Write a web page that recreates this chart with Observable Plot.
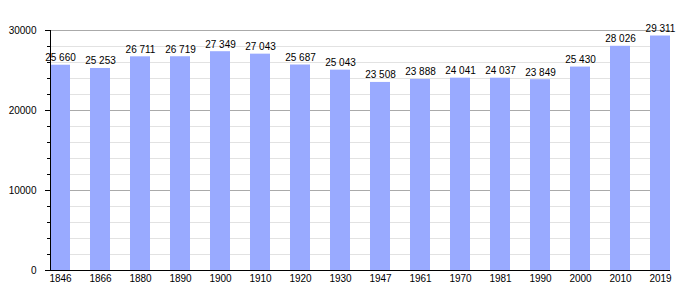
<!DOCTYPE html>
<html>
<head>
<meta charset="utf-8">
<script src="https://cdn.jsdelivr.net/npm/d3@7"></script>
<script src="https://cdn.jsdelivr.net/npm/@observablehq/plot@0.6"></script>
<style>
  html, body { margin: 0; padding: 0; background: #fff; }
</style>
</head>
<body>
<div id="chart"></div>
<script>
const years = ["1846","1866","1880","1890","1900","1910","1920","1930","1947","1961","1970","1981","1990","2000","2010","2019"];
const population = [25660,25253,26711,26719,27349,27043,25687,25043,23508,23888,24041,24037,23849,25430,28026,29311];
const majorTicks = [0,10000,20000,30000];
const minorTicks = [2000,4000,6000,8000,12000,14000,16000,18000,22000,24000,26000,28000];

const data = years.map((y, i) => ({year: y, pop: population[i]}));
const fmt = v => d3.format(",")(v).replace(/,/g, " ");

const chart = Plot.plot({
  width: 700,
  height: 300,
  marginLeft: 50,
  marginRight: 30,
  marginTop: 30,
  marginBottom: 30,
  style: {fontFamily: "'Liberation Sans', Arial, sans-serif", fontSize: "10px", color: "#000", background: "#fff"},
  x: {domain: years, paddingInner: 0.5, paddingOuter: 0, label: null},
  y: {domain: [0, 30000], label: null},
  marks: [
    Plot.ruleY(minorTicks, {stroke: "#e2e2e2"}),
    Plot.ruleY(majorTicks.slice(1), {stroke: "#aaaaaa"}),
    Plot.barY(data, {x: "year", y: "pop", fill: "#99aaff"}),
    Plot.text(data, {x: "year", y: "pop", text: d => fmt(d.pop), lineAnchor: "bottom", dy: -4, fontSize: 10, fill: "#000"}),
    Plot.axisY(minorTicks, {tickSize: 3, tickFormat: () => "", label: null, stroke: "#000"}),
    Plot.axisY(majorTicks, {tickSize: 5, tickPadding: 9, tickFormat: d => String(d), label: null, stroke: "#000", fontSize: 10}),
    Plot.axisX({tickSize: 0, tickPadding: 4, label: null, fontSize: 10}),
    Plot.frame({anchor: "left", stroke: "#000"}),
    Plot.ruleY([0], {stroke: "#000"})
  ]
});
document.getElementById("chart").appendChild(chart);
</script>
</body>
</html>
